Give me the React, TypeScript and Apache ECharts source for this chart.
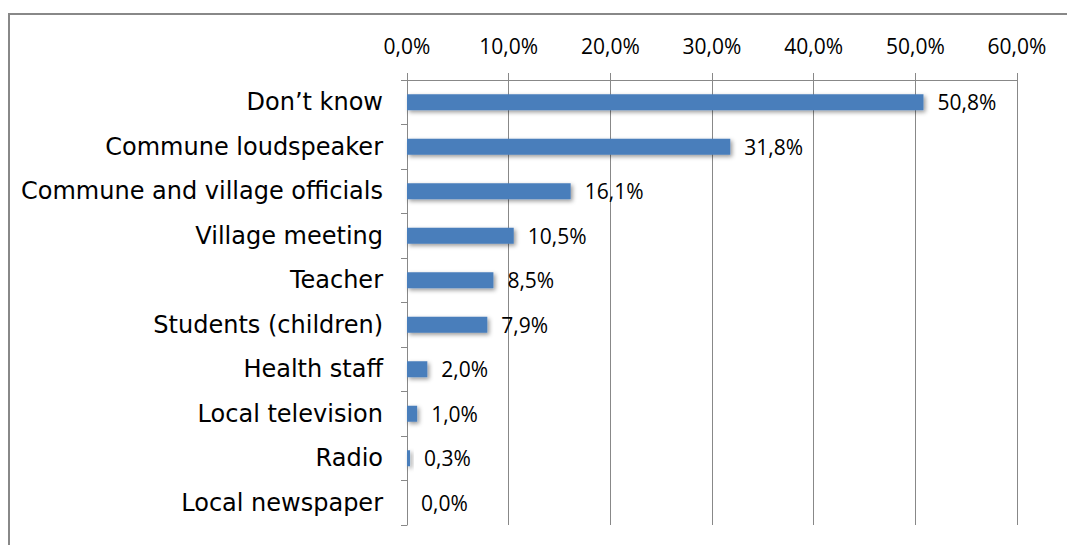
import React, { useEffect, useRef } from "react";
import * as echarts from "echarts";

const categories = [
  "Don\u2019t know",
  "Commune loudspeaker",
  "Commune and village officials",
  "Village meeting",
  "Teacher",
  "Students (children)",
  "Health staff",
  "Local television",
  "Radio",
  "Local newspaper",
];
const values = [50.8, 31.8, 16.1, 10.5, 8.5, 7.9, 2.0, 1.0, 0.3, 0.0];

const fmt = (v: number) => v.toFixed(1).replace(".", ",") + "%";

export default function App() {
  const ref = useRef<HTMLDivElement>(null);
  useEffect(() => {
    if (!ref.current) return;
    const chart = echarts.init(ref.current, undefined, { renderer: "svg" });
    chart.setOption({
      animation: false,
      backgroundColor: "#ffffff",
      graphic: [
        {
          type: "rect",
          shape: { x: 9, y: 14, width: 1200, height: 700 },
          style: { fill: "none", stroke: "#888888", lineWidth: 2 },
          silent: true,
        },
      ],
      grid: { left: 407, right: 50, top: 80, bottom: 20, containLabel: false },
      xAxis: {
        type: "value",
        position: "top",
        min: 0,
        max: 60,
        interval: 10,
        axisLine: { show: true, lineStyle: { color: "#888888", width: 1 } },
        axisTick: { show: true, length: 7, lineStyle: { color: "#888888" } },
        splitLine: { show: true, lineStyle: { color: "#888888", width: 1 } },
        axisLabel: {
          formatter: (v: number) => fmt(v),
          color: "#000000",
          fontFamily: "Open Sans",
          fontSize: 21,
          margin: 24,
        },
      },
      yAxis: {
        type: "category",
        data: categories,
        inverse: true,
        axisLine: { show: true, lineStyle: { color: "#888888", width: 1 } },
        axisTick: { show: true, length: 6, lineStyle: { color: "#888888" } },
        axisLabel: {
          color: "#000000",
          fontFamily: "DejaVu Sans",
          fontSize: 24,
          margin: 24,
        },
      },
      series: [
        {
          type: "bar",
          data: values,
          barWidth: 16,
          itemStyle: {
            color: "#4a7ebb",
            shadowColor: "rgba(0,0,0,0.4)",
            shadowBlur: 4,
            shadowOffsetX: 2,
            shadowOffsetY: 2,
          },
          label: {
            show: true,
            position: "right",
            distance: 14,
            formatter: (p: any) => fmt(p.value),
            color: "#000000",
            fontFamily: "Open Sans",
            fontSize: 21,
          },
        },
      ],
    });
    return () => chart.dispose();
  }, []);
  return <div ref={ref} style={{ width: 1067, height: 545, position: "absolute", left: 0, top: 0 }} />;
}
